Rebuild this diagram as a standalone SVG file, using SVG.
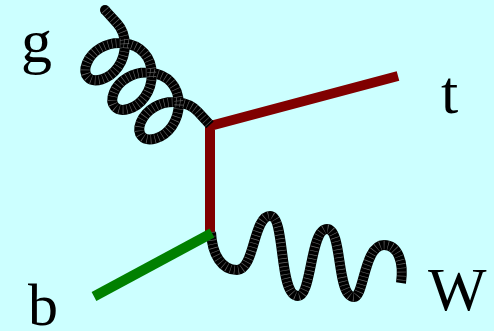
<svg xmlns="http://www.w3.org/2000/svg" width="494" height="331" viewBox="0 0 494 331">
<style>
.bg{fill:#CCFFFF}
.quark{fill:none;stroke:#800000;stroke-width:10;stroke-linejoin:miter}
.bquark{fill:none;stroke:#008000;stroke-width:10}
.boson{fill:none;stroke:#000000;stroke-width:10;stroke-linecap:butt;stroke-linejoin:round}
.tick{fill:none;stroke:#6a6a6a;stroke-width:9;stroke-dasharray:0.6 3.4}
.lbl{font-family:"Liberation Serif","Times New Roman",serif;font-size:62px;fill:#000000}
</style>
<defs>
<path id="gluonPath" d="M0 0 L18 0 C33.38 0 47.67 13.82 51 29 C54.33 44.18 46.71 58 38 58 C29.29 58 21.67 44.18 25 29 C28.33 13.82 42.62 0 58 0 C73.38 0 87.67 13.82 91 29 C94.33 44.18 86.71 58 78 58 C69.29 58 61.67 44.18 65 29 C68.33 13.82 82.62 0 98 0 C113.38 0 127.67 13.82 131 29 C134.33 44.18 126.71 58 118 58 C109.29 58 101.67 44.18 105 29 C108.33 13.82 122.62 0 138 0 L155.7 0"/>
<path id="wPath" d="M211 232 C212 255 222 270 237 270 C255 270 253 216 270 216 C286 216 278 296 298 296 C312 296 310 229 327 229 C343 229 336 297 354 297 C364 297 364 245 384 245 C398 245 404 262 401 283"/>
</defs>
<rect class="bg" x="0" y="0" width="494" height="331"/>
<g id="connectors">
  <path id="top-quark" class="quark" d="M398 76 L210 126 L210 232"/>
  <g id="W-boson">
    <use href="#wPath" class="boson"/>
    <use href="#wPath" class="tick"/>
  </g>
  <path id="b-quark" class="bquark" d="M94 296.5 L212 233"/>
  <g id="gluon">
    <circle cx="105" cy="10" r="5" fill="#000000"/>
    <g transform="translate(105 10) rotate(47.6)">
      <use href="#gluonPath" class="boson"/>
      <use href="#gluonPath" class="tick"/>
    </g>
  </g>
</g>
<g id="label-g"><text class="lbl" x="21" y="62">g</text></g>
<g id="label-t"><text class="lbl" x="441" y="113">t</text></g>
<g id="label-b"><text class="lbl" x="28" y="325" style="font-size:60px">b</text></g>
<g id="label-W"><text class="lbl" x="428" y="310">W</text></g>
</svg>
